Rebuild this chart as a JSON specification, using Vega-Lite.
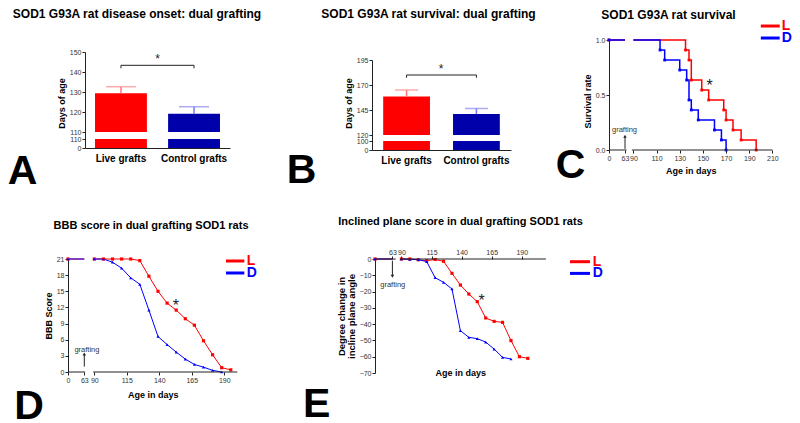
{
  "$schema": "https://vega.github.io/schema/vega-lite/v6.json",
  "padding": {"left": 7, "top": 8, "right": 2, "bottom": 2},
  "autosize": {"type": "pad"},
  "config": {
    "view": {"stroke": null},
    "font": "Liberation Sans",
    "axis": {"labelFont": "Liberation Sans", "labelFontSize": 7, "labelColor": "#333", "titleFont": "Liberation Sans", "titleFontSize": 9, "titleFontWeight": "bold", "titleColor": "#000", "domainColor": "#222", "tickColor": "#222", "tickSize": 3, "grid": false, "labelOverlap": false, "labelFlush": false, "labelPadding": 1, "titlePadding": 3, "labelBound": false},
    "title": {"font": "Liberation Sans", "fontSize": 12, "fontWeight": "bold", "color": "#000", "anchor": "middle", "baseline": "alphabetic", "frame": "group"}
  },
  "datasets": {
    "onset": [
      {"group": "Live grafts", "mean": 129.35, "upper": 132.65},
      {"group": "Control grafts", "mean": 119.15, "upper": 122.65}
    ],
    "survivalBars": [
      {"group": "Live grafts", "mean": 158.5, "upper": 165},
      {"group": "Control grafts", "mean": 141, "upper": 146.5}
    ],
    "survival": [
      {"group": "L", "seg": "a", "age": 0, "rate": 1},
      {"group": "L", "seg": "a", "age": 63, "rate": 1},
      {"group": "L", "seg": "b", "age": 90, "rate": 1},
      {"group": "L", "seg": "b", "age": 135, "rate": 0.909},
      {"group": "L", "seg": "b", "age": 138, "rate": 0.818},
      {"group": "L", "seg": "b", "age": 140, "rate": 0.636},
      {"group": "L", "seg": "b", "age": 149, "rate": 0.545},
      {"group": "L", "seg": "b", "age": 155, "rate": 0.455},
      {"group": "L", "seg": "b", "age": 168, "rate": 0.364},
      {"group": "L", "seg": "b", "age": 170, "rate": 0.273},
      {"group": "L", "seg": "b", "age": 176, "rate": 0.182},
      {"group": "L", "seg": "b", "age": 183, "rate": 0.091},
      {"group": "L", "seg": "b", "age": 196, "rate": 0},
      {"group": "D", "seg": "a", "age": 0, "rate": 1},
      {"group": "D", "seg": "a", "age": 63, "rate": 1},
      {"group": "D", "seg": "b", "age": 90, "rate": 1},
      {"group": "D", "seg": "b", "age": 113, "rate": 0.909},
      {"group": "D", "seg": "b", "age": 117, "rate": 0.818},
      {"group": "D", "seg": "b", "age": 130, "rate": 0.727},
      {"group": "D", "seg": "b", "age": 136, "rate": 0.636},
      {"group": "D", "seg": "b", "age": 138, "rate": 0.455},
      {"group": "D", "seg": "b", "age": 140, "rate": 0.364},
      {"group": "D", "seg": "b", "age": 146, "rate": 0.273},
      {"group": "D", "seg": "b", "age": 160, "rate": 0.182},
      {"group": "D", "seg": "b", "age": 166, "rate": 0.091},
      {"group": "D", "seg": "b", "age": 170, "rate": 0}
    ],
    "bbb": [
      {"group": "L", "seg": "a", "age": 0, "score": 21},
      {"group": "L", "seg": "a", "age": 63, "score": 21},
      {"group": "L", "seg": "b", "age": 90, "score": 21},
      {"group": "L", "seg": "b", "age": 97, "score": 21},
      {"group": "L", "seg": "b", "age": 104, "score": 21},
      {"group": "L", "seg": "b", "age": 111, "score": 21},
      {"group": "L", "seg": "b", "age": 118, "score": 21},
      {"group": "L", "seg": "b", "age": 125, "score": 20.7},
      {"group": "L", "seg": "b", "age": 132, "score": 17.8},
      {"group": "L", "seg": "b", "age": 139, "score": 15.0},
      {"group": "L", "seg": "b", "age": 146, "score": 12.8},
      {"group": "L", "seg": "b", "age": 153, "score": 11.5},
      {"group": "L", "seg": "b", "age": 160, "score": 9.9},
      {"group": "L", "seg": "b", "age": 167, "score": 8.7},
      {"group": "L", "seg": "b", "age": 174, "score": 5.8},
      {"group": "L", "seg": "b", "age": 181, "score": 3.2},
      {"group": "L", "seg": "b", "age": 188, "score": 0.8},
      {"group": "L", "seg": "b", "age": 195, "score": 0.4},
      {"group": "D", "seg": "a", "age": 0, "score": 21},
      {"group": "D", "seg": "a", "age": 63, "score": 21},
      {"group": "D", "seg": "b", "age": 90, "score": 21},
      {"group": "D", "seg": "b", "age": 97, "score": 21},
      {"group": "D", "seg": "b", "age": 104, "score": 20.4},
      {"group": "D", "seg": "b", "age": 111, "score": 19.3},
      {"group": "D", "seg": "b", "age": 118, "score": 17.5},
      {"group": "D", "seg": "b", "age": 125, "score": 16.3},
      {"group": "D", "seg": "b", "age": 132, "score": 11.5},
      {"group": "D", "seg": "b", "age": 139, "score": 6.6},
      {"group": "D", "seg": "b", "age": 146, "score": 5.1},
      {"group": "D", "seg": "b", "age": 153, "score": 3.7},
      {"group": "D", "seg": "b", "age": 160, "score": 2.4},
      {"group": "D", "seg": "b", "age": 167, "score": 1.4},
      {"group": "D", "seg": "b", "age": 174, "score": 0.9},
      {"group": "D", "seg": "b", "age": 181, "score": 0.3},
      {"group": "D", "seg": "b", "age": 188, "score": 0}
    ],
    "incline": [
      {"group": "L", "seg": "a", "age": 0, "angle": 0},
      {"group": "L", "seg": "a", "age": 63, "angle": 0},
      {"group": "L", "seg": "b", "age": 90, "angle": 0},
      {"group": "L", "seg": "b", "age": 97, "angle": 0},
      {"group": "L", "seg": "b", "age": 104, "angle": -0.5},
      {"group": "L", "seg": "b", "age": 111, "angle": -1.0},
      {"group": "L", "seg": "b", "age": 118, "angle": -0.3},
      {"group": "L", "seg": "b", "age": 125, "angle": -1.4},
      {"group": "L", "seg": "b", "age": 132, "angle": -8.8},
      {"group": "L", "seg": "b", "age": 139, "angle": -16},
      {"group": "L", "seg": "b", "age": 146, "angle": -21.5},
      {"group": "L", "seg": "b", "age": 153, "angle": -26.2},
      {"group": "L", "seg": "b", "age": 160, "angle": -36.2},
      {"group": "L", "seg": "b", "age": 167, "angle": -38.3},
      {"group": "L", "seg": "b", "age": 174, "angle": -38.9},
      {"group": "L", "seg": "b", "age": 181, "angle": -50.1},
      {"group": "L", "seg": "b", "age": 188, "angle": -60},
      {"group": "L", "seg": "b", "age": 195, "angle": -61},
      {"group": "D", "seg": "a", "age": 0, "angle": 0},
      {"group": "D", "seg": "a", "age": 63, "angle": 0},
      {"group": "D", "seg": "b", "age": 90, "angle": 0},
      {"group": "D", "seg": "b", "age": 97, "angle": -0.2},
      {"group": "D", "seg": "b", "age": 104, "angle": -0.4},
      {"group": "D", "seg": "b", "age": 111, "angle": -1.6},
      {"group": "D", "seg": "b", "age": 118, "angle": -11.5},
      {"group": "D", "seg": "b", "age": 125, "angle": -14.3},
      {"group": "D", "seg": "b", "age": 132, "angle": -18.4},
      {"group": "D", "seg": "b", "age": 139, "angle": -44},
      {"group": "D", "seg": "b", "age": 146, "angle": -48.1},
      {"group": "D", "seg": "b", "age": 153, "angle": -48.9},
      {"group": "D", "seg": "b", "age": 160, "angle": -51},
      {"group": "D", "seg": "b", "age": 167, "angle": -55.3},
      {"group": "D", "seg": "b", "age": 174, "angle": -60.4},
      {"group": "D", "seg": "b", "age": 181, "angle": -61.4}
    ],
    "one": [{"k": 1}]
  },
  "bounds": "flush",
  "spacing": 219,
  "resolve": {"scale": {"color": "independent"}},
  "vconcat": [
    {
      "bounds": "flush",
      "spacing": 142,
      "resolve": {"scale": {"color": "independent"}},
      "hconcat": [
        {
          "width": 145, "height": 108,
          "title": {"text": "SOD1 G93A rat disease onset: dual grafting", "dx": -20.5, "offset": 19},
          "data": {"name": "onset"},
          "layer": [
            {"mark": {"type": "bar"},
             "encoding": {
               "x": {"field": "group", "type": "nominal", "sort": null, "scale": {"domain": ["Live grafts", "Control grafts"], "paddingInner": 0.29, "paddingOuter": 0.137}, "axis": {"title": null, "labelAngle": 0, "labelFontSize": 10, "labelFontWeight": "bold", "labelColor": "#000", "ticks": false, "labelPadding": 5, "labelOverlap": false}},
               "y": {"datum": 0, "type": "quantitative", "scale": {"domain": [0, 110, 110.01, 150], "range": [108, 99, 92, 12], "zero": false, "nice": false}, "axis": {"values": [0, 110, 110.01, 120, 130, 140, 150], "tickCount": 20, "labelExpr": "datum.value > 110 && datum.value < 111 ? '110' : format(datum.value, 'd')", "title": "Days of age", "titleY": 63, "labelOverlap": false, "labelFlush": false}},
               "y2": {"datum": 110},
               "color": {"field": "group", "type": "nominal", "scale": {"domain": ["Live grafts", "Control grafts"], "range": ["#ff0000", "#0000aa"]}, "legend": null}
             }},
            {"mark": {"type": "bar"},
             "encoding": {
               "x": {"field": "group", "type": "nominal", "sort": null},
               "y": {"field": "mean", "type": "quantitative"},
               "y2": {"datum": 110.01},
               "color": {"field": "group", "type": "nominal"}
             }},
            {"mark": {"type": "rule", "strokeWidth": 1.5},
             "encoding": {
               "x": {"field": "group", "type": "nominal", "sort": null},
               "y": {"field": "mean", "type": "quantitative"},
               "y2": {"field": "upper"},
               "color": {"condition": {"test": "datum.group === 'Live grafts'", "value": "#ff7777"}, "value": "#7777ee"}
             }},
            {"mark": {"type": "tick", "thickness": 1.5, "size": 30},
             "encoding": {
               "x": {"field": "group", "type": "nominal", "sort": null},
               "y": {"field": "upper", "type": "quantitative"},
               "color": {"condition": {"test": "datum.group === 'Live grafts'", "value": "#ff8888"}, "value": "#8888ee"}
             }},
            {"mark": {"type": "line", "color": "#222", "strokeWidth": 1},
             "encoding": {"x": {"field": "group", "type": "nominal", "sort": null}, "y": {"datum": 143.35, "type": "quantitative"}}},
            {"mark": {"type": "rule", "color": "#222"},
             "encoding": {"x": {"field": "group", "type": "nominal", "sort": null}, "y": {"datum": 143.35, "type": "quantitative"}, "y2": {"datum": 141.85}}},
            {"transform": [{"filter": "datum.group === 'Live grafts'"}],
             "mark": {"type": "text", "text": "*", "fontSize": 12, "baseline": "alphabetic", "color": "#222", "dx": 36.5},
             "encoding": {"x": {"field": "group", "type": "nominal", "sort": null}, "y": {"datum": 144.5, "type": "quantitative"}}},
            {"transform": [{"filter": "datum.group === 'Live grafts'"}],
             "mark": {"type": "text", "text": "A", "fontSize": 41, "fontWeight": "bold", "baseline": "alphabetic", "color": "#000", "dx": -98.5},
             "encoding": {"x": {"field": "group", "type": "nominal", "sort": null}, "y": {"datum": -440, "type": "quantitative"}}}
          ]
        },
        {
          "bounds": "flush",
          "spacing": 98,
          "resolve": {"scale": {"color": "independent"}},
          "hconcat": [
            {
              "width": 139, "height": 110,
              "title": {"text": "SOD1 G93A rat survival: dual grafting", "dx": -13, "offset": 19},
              "data": {"name": "survivalBars"},
              "layer": [
                {"mark": {"type": "bar"},
                 "encoding": {
                   "x": {"field": "group", "type": "nominal", "sort": null, "scale": {"domain": ["Live grafts", "Control grafts"], "paddingInner": 0.33, "paddingOuter": 0.16}, "axis": {"title": null, "labelAngle": 0, "labelFontSize": 10, "labelFontWeight": "bold", "labelColor": "#000", "ticks": false, "labelPadding": 5, "labelOverlap": false}},
                   "y": {"datum": 0, "type": "quantitative", "scale": {"domain": [0, 100, 120, 195], "range": [110, 101, 95, 20], "zero": false, "nice": false}, "axis": {"values": [0, 100, 120, 145, 170, 195], "tickCount": 20, "format": "d", "title": "Days of age", "titleY": 63, "labelOverlap": false, "labelFlush": false}},
                   "y2": {"datum": 100},
                   "color": {"field": "group", "type": "nominal", "scale": {"domain": ["Live grafts", "Control grafts"], "range": ["#ff0000", "#0000aa"]}, "legend": null}
                 }},
                {"mark": {"type": "bar"},
                 "encoding": {
                   "x": {"field": "group", "type": "nominal", "sort": null},
                   "y": {"field": "mean", "type": "quantitative"},
                   "y2": {"datum": 120},
                   "color": {"field": "group", "type": "nominal"}
                 }},
                {"mark": {"type": "rule", "strokeWidth": 1.5},
                 "encoding": {
                   "x": {"field": "group", "type": "nominal", "sort": null},
                   "y": {"field": "mean", "type": "quantitative"},
                   "y2": {"field": "upper"},
                   "color": {"condition": {"test": "datum.group === 'Live grafts'", "value": "#ff7777"}, "value": "#7777ee"}
                 }},
                {"mark": {"type": "tick", "thickness": 1.5, "size": 23},
                 "encoding": {
                   "x": {"field": "group", "type": "nominal", "sort": null},
                   "y": {"field": "upper", "type": "quantitative"},
                   "color": {"condition": {"test": "datum.group === 'Live grafts'", "value": "#ff8888"}, "value": "#8888ee"}
                 }},
                {"mark": {"type": "line", "color": "#222", "strokeWidth": 1},
                 "encoding": {"x": {"field": "group", "type": "nominal", "sort": null}, "y": {"datum": 180, "type": "quantitative"}}},
                {"mark": {"type": "rule", "color": "#222"},
                 "encoding": {"x": {"field": "group", "type": "nominal", "sort": null}, "y": {"datum": 180, "type": "quantitative"}, "y2": {"datum": 177.3}}},
                {"transform": [{"filter": "datum.group === 'Live grafts'"}],
                 "mark": {"type": "text", "text": "*", "fontSize": 12, "baseline": "alphabetic", "color": "#222", "dx": 34.5},
                 "encoding": {"x": {"field": "group", "type": "nominal", "sort": null}, "y": {"datum": 182, "type": "quantitative"}}},
                {"transform": [{"filter": "datum.group === 'Live grafts'"}],
                 "mark": {"type": "text", "text": "B", "fontSize": 41, "fontWeight": "bold", "baseline": "alphabetic", "color": "#000", "dx": -105},
                 "encoding": {"x": {"field": "group", "type": "nominal", "sort": null}, "y": {"datum": -363, "type": "quantitative"}}}
              ]
            },
            {
              "width": 163, "height": 110,
              "title": {"text": "SOD1 G93A rat survival", "dx": -22, "offset": 18, "dy": 20.5},
              "layer": [
                {
                  "data": {"name": "survival"},
                  "mark": {"type": "line", "interpolate": "step-after", "strokeWidth": 1.5},
                  "encoding": {
                    "x": {"field": "age", "type": "quantitative", "scale": {"domain": [0, 63, 90, 210], "range": [0, 16, 24.4, 163.4], "nice": false, "zero": false}, "axis": {"values": [0, 63, 90, 110, 130, 150, 170, 190, 210], "tickCount": 20, "domain": false, "title": "Age in days", "titlePadding": 5, "labelOverlap": false, "labelFlush": false}},
                    "y": {"field": "rate", "type": "quantitative", "scale": {"domain": [0, 1], "nice": false, "zero": false}, "axis": {"values": [0, 0.5, 1], "tickCount": 20, "format": ".1f", "title": "Survival rate", "titleY": 61, "labelOverlap": false, "labelFlush": false}},
                    "color": {"field": "group", "type": "nominal", "sort": null, "scale": {"domain": ["L", "D"], "range": ["#ff0000", "#0000ff"]}, "legend": null},
                    "detail": {"field": "seg", "type": "nominal"}
                  }
                },
                {
                  "data": {"name": "survival"},
                  "transform": [{"filter": "datum.age != 63 && datum.age != 90"}],
                  "mark": {"type": "point", "shape": "square", "filled": true, "size": 8, "opacity": 1},
                  "encoding": {
                    "x": {"field": "age", "type": "quantitative"},
                    "y": {"field": "rate", "type": "quantitative"},
                    "color": {"condition": {"test": "datum.group === 'L'", "value": "#ff0000"}, "value": "#0000ff"}
                  }
                },
                {"data": {"name": "one"}, "mark": {"type": "rule", "color": "#222"}, "encoding": {"x": {"datum": 0, "type": "quantitative"}, "x2": {"datum": 68}, "y": {"datum": 0, "type": "quantitative"}}},
                {"data": {"name": "one"}, "mark": {"type": "rule", "color": "#222"}, "encoding": {"x": {"datum": 85, "type": "quantitative"}, "x2": {"datum": 210}, "y": {"datum": 0, "type": "quantitative"}}},
                {"data": {"name": "one"}, "mark": {"type": "rule", "color": "#222"}, "encoding": {"x": {"datum": 63, "type": "quantitative"}, "y": {"datum": 0.01, "type": "quantitative"}, "y2": {"datum": 0.12}}},
                {"data": {"name": "one"}, "mark": {"type": "point", "shape": "triangle-up", "filled": true, "size": 12, "color": "#222", "opacity": 1}, "encoding": {"x": {"datum": 63, "type": "quantitative"}, "y": {"datum": 0.125, "type": "quantitative"}}},
                {"data": {"name": "one"}, "mark": {"type": "text", "text": "grafting", "fontSize": 7.5, "baseline": "middle", "color": "#333"}, "encoding": {"x": {"datum": 61, "type": "quantitative"}, "y": {"datum": 0.182, "type": "quantitative"}}},
                {"data": {"name": "one"}, "mark": {"type": "text", "text": "*", "fontSize": 16, "baseline": "alphabetic", "color": "#222"}, "encoding": {"x": {"datum": 155.9, "type": "quantitative"}, "y": {"datum": 0.54, "type": "quantitative"}}},
                {"data": {"name": "one"}, "mark": {"type": "text", "text": "C", "fontSize": 41, "fontWeight": "bold", "baseline": "alphabetic", "color": "#000"}, "encoding": {"x": {"datum": -151.6, "type": "quantitative"}, "y": {"datum": -0.252, "type": "quantitative"}}},
                {"data": {"name": "one"}, "mark": {"type": "rule", "color": "#ff0000", "strokeWidth": 3}, "encoding": {"x": {"datum": 200, "type": "quantitative"}, "x2": {"datum": 216.3}, "y": {"datum": 1.127, "type": "quantitative"}}},
                {"data": {"name": "one"}, "mark": {"type": "rule", "color": "#0000ff", "strokeWidth": 3}, "encoding": {"x": {"datum": 200, "type": "quantitative"}, "x2": {"datum": 216.3}, "y": {"datum": 1.018, "type": "quantitative"}}},
                {"data": {"name": "one"}, "mark": {"type": "text", "text": "L", "fontSize": 14, "fontWeight": "bold", "align": "left", "baseline": "middle", "color": "#ff0000"}, "encoding": {"x": {"datum": 218, "type": "quantitative"}, "y": {"datum": 1.127, "type": "quantitative"}}},
                {"data": {"name": "one"}, "mark": {"type": "text", "text": "D", "fontSize": 14, "fontWeight": "bold", "align": "left", "baseline": "middle", "color": "#0000ff"}, "encoding": {"x": {"datum": 218, "type": "quantitative"}, "y": {"datum": 1.018, "type": "quantitative"}}}
              ]
            }
          ]
        }
      ]
    },
    {
      "bounds": "flush",
      "spacing": 138,
      "resolve": {"scale": {"color": "independent"}},
      "hconcat": [
        {
          "width": 152, "height": 113,
          "title": {"text": "BBB score in dual grafting SOD1 rats", "dx": -10, "offset": 22.5, "fontSize": 11},
          "layer": [
            {
              "data": {"name": "bbb"},
              "mark": {"type": "line", "strokeWidth": 1},
              "encoding": {
                "x": {"field": "age", "type": "quantitative", "scale": {"domain": [0, 63, 90, 200], "range": [-17, -0.7, 9.3, 152.3], "nice": false, "zero": false}, "axis": {"values": [0, 63, 90, 115, 140, 165, 190], "tickCount": 20, "domain": false, "title": "Age in days", "titlePadding": 7, "labelOverlap": false, "labelFlush": false}},
                "y": {"field": "score", "type": "quantitative", "scale": {"domain": [0, 21], "nice": false, "zero": false}, "axis": {"values": [0, 3, 6, 9, 12, 15, 18, 21], "tickCount": 20, "title": "BBB Score", "offset": 17, "labelOverlap": false, "labelFlush": false}},
                "color": {"field": "group", "type": "nominal", "sort": null, "scale": {"domain": ["L", "D"], "range": ["#ff0000", "#0000ff"]}, "legend": null},
                "detail": {"field": "seg", "type": "nominal"}
              }
            },
            {
              "data": {"name": "bbb"},
              "transform": [{"filter": "datum.age != 63 && datum.group === 'L'"}],
              "mark": {"type": "point", "shape": "square", "filled": true, "size": 10, "opacity": 1, "color": "#ff0000"},
              "encoding": {"x": {"field": "age", "type": "quantitative"}, "y": {"field": "score", "type": "quantitative"}}
            },
            {
              "data": {"name": "bbb"},
              "transform": [{"filter": "datum.age != 63 && datum.group === 'D'"}],
              "mark": {"type": "point", "shape": "triangle-up", "filled": true, "size": 10, "opacity": 1, "color": "#0000ff"},
              "encoding": {"x": {"field": "age", "type": "quantitative"}, "y": {"field": "score", "type": "quantitative"}}
            },
            {"data": {"name": "one"}, "mark": {"type": "rule", "color": "#222"}, "encoding": {"x": {"datum": 0, "type": "quantitative"}, "x2": {"datum": 65}, "y": {"datum": 0, "type": "quantitative"}}},
            {"data": {"name": "one"}, "mark": {"type": "rule", "color": "#222"}, "encoding": {"x": {"datum": 87, "type": "quantitative"}, "x2": {"datum": 200}, "y": {"datum": 0, "type": "quantitative"}}},
            {"data": {"name": "one"}, "mark": {"type": "rule", "color": "#222"}, "encoding": {"x": {"datum": 63, "type": "quantitative"}, "y": {"datum": 1.0, "type": "quantitative"}, "y2": {"datum": 3.2}}},
            {"data": {"name": "one"}, "mark": {"type": "point", "shape": "triangle-up", "filled": true, "size": 12, "color": "#222", "opacity": 1}, "encoding": {"x": {"datum": 63, "type": "quantitative"}, "y": {"datum": 3.35, "type": "quantitative"}}},
            {"data": {"name": "one"}, "mark": {"type": "text", "text": "grafting", "fontSize": 7.5, "baseline": "middle", "color": "#333"}, "encoding": {"x": {"datum": 70, "type": "quantitative"}, "y": {"datum": 4.1, "type": "quantitative"}}},
            {"data": {"name": "one"}, "mark": {"type": "text", "text": "*", "fontSize": 16, "baseline": "alphabetic", "color": "#222"}, "encoding": {"x": {"datum": 152.8, "type": "quantitative"}, "y": {"datum": 11.3, "type": "quantitative"}}},
            {"data": {"name": "one"}, "mark": {"type": "text", "text": "D", "fontSize": 41, "fontWeight": "bold", "baseline": "alphabetic", "color": "#000"}, "encoding": {"x": {"datum": -150.7, "type": "quantitative"}, "y": {"datum": -8.73, "type": "quantitative"}}},
            {"data": {"name": "one"}, "mark": {"type": "rule", "color": "#ff0000", "strokeWidth": 3}, "encoding": {"x": {"datum": 191.3, "type": "quantitative"}, "x2": {"datum": 205.4}, "y": {"datum": 20.63, "type": "quantitative"}}},
            {"data": {"name": "one"}, "mark": {"type": "rule", "color": "#0000ff", "strokeWidth": 3}, "encoding": {"x": {"datum": 191.3, "type": "quantitative"}, "x2": {"datum": 205.4}, "y": {"datum": 18.4, "type": "quantitative"}}},
            {"data": {"name": "one"}, "mark": {"type": "text", "text": "L", "fontSize": 14, "fontWeight": "bold", "align": "left", "baseline": "middle", "color": "#ff0000"}, "encoding": {"x": {"datum": 207.3, "type": "quantitative"}, "y": {"datum": 20.63, "type": "quantitative"}}},
            {"data": {"name": "one"}, "mark": {"type": "text", "text": "D", "fontSize": 14, "fontWeight": "bold", "align": "left", "baseline": "middle", "color": "#0000ff"}, "encoding": {"x": {"datum": 207.3, "type": "quantitative"}, "y": {"datum": 18.4, "type": "quantitative"}}}
          ]
        },
        {
          "width": 171, "height": 114,
          "title": {"text": "Inclined plane score in dual grafting SOD1 rats", "dx": 0, "offset": 21, "fontSize": 11},
          "layer": [
            {
              "data": {"name": "incline"},
              "mark": {"type": "line", "strokeWidth": 1},
              "encoding": {
                "x": {"field": "age", "type": "quantitative", "scale": {"domain": [0, 63, 90, 210], "range": [0, 17.4, 26.4, 170.9], "nice": false, "zero": false}, "axis": {"orient": "top", "values": [63, 90, 115, 140, 165, 190], "tickCount": 20, "domain": false, "title": null, "labelOverlap": false, "labelFlush": false}},
                "y": {"field": "angle", "type": "quantitative", "scale": {"domain": [-70, 0], "nice": false, "zero": false}, "axis": {"values": [0, -10, -20, -30, -40, -50, -60, -70], "tickCount": 20, "title": ["Degree change in", "incline plane angle"], "titleFontSize": 9.5, "titleLineHeight": 10, "labelOverlap": false, "labelFlush": false}},
                "color": {"field": "group", "type": "nominal", "sort": null, "scale": {"domain": ["L", "D"], "range": ["#ff0000", "#0000ff"]}, "legend": null},
                "detail": {"field": "seg", "type": "nominal"}
              }
            },
            {
              "data": {"name": "incline"},
              "transform": [{"filter": "datum.age != 63 && datum.group === 'L'"}],
              "mark": {"type": "point", "shape": "square", "filled": true, "size": 10, "opacity": 1, "color": "#ff0000"},
              "encoding": {"x": {"field": "age", "type": "quantitative"}, "y": {"field": "angle", "type": "quantitative"}}
            },
            {
              "data": {"name": "incline"},
              "transform": [{"filter": "datum.age != 63 && datum.group === 'D'"}],
              "mark": {"type": "point", "shape": "triangle-up", "filled": true, "size": 10, "opacity": 1, "color": "#0000ff"},
              "encoding": {"x": {"field": "age", "type": "quantitative"}, "y": {"field": "angle", "type": "quantitative"}}
            },
            {"data": {"name": "one"}, "mark": {"type": "rule", "color": "#222"}, "encoding": {"x": {"datum": 0, "type": "quantitative"}, "x2": {"datum": 73}, "y": {"datum": 0, "type": "quantitative"}}},
            {"data": {"name": "one"}, "mark": {"type": "rule", "color": "#222"}, "encoding": {"x": {"datum": 86, "type": "quantitative"}, "x2": {"datum": 210}, "y": {"datum": 0, "type": "quantitative"}}},
            {"data": {"name": "one"}, "mark": {"type": "rule", "color": "#222"}, "encoding": {"x": {"datum": 63, "type": "quantitative"}, "y": {"datum": -1, "type": "quantitative"}, "y2": {"datum": -10}}},
            {"data": {"name": "one"}, "mark": {"type": "point", "shape": "triangle-down", "filled": true, "size": 12, "color": "#222", "opacity": 1}, "encoding": {"x": {"datum": 63, "type": "quantitative"}, "y": {"datum": -10.6, "type": "quantitative"}}},
            {"data": {"name": "one"}, "mark": {"type": "text", "text": "grafting", "fontSize": 7.5, "baseline": "middle", "color": "#333"}, "encoding": {"x": {"datum": 64, "type": "quantitative"}, "y": {"datum": -16, "type": "quantitative"}}},
            {"data": {"name": "one"}, "mark": {"type": "text", "text": "*", "fontSize": 16, "baseline": "alphabetic", "color": "#222"}, "encoding": {"x": {"datum": 156.7, "type": "quantitative"}, "y": {"datum": -28.7, "type": "quantitative"}}},
            {"data": {"name": "one"}, "mark": {"type": "text", "text": "Age in days", "fontSize": 9, "fontWeight": "bold", "baseline": "alphabetic", "color": "#000"}, "encoding": {"x": {"datum": 139.3, "type": "quantitative"}, "y": {"datum": -71.6, "type": "quantitative"}}},
            {"data": {"name": "one"}, "mark": {"type": "text", "text": "E", "fontSize": 41, "fontWeight": "bold", "baseline": "alphabetic", "color": "#000"}, "encoding": {"x": {"datum": -211, "type": "quantitative"}, "y": {"datum": -97.2, "type": "quantitative"}}},
            {"data": {"name": "one"}, "mark": {"type": "rule", "color": "#ff0000", "strokeWidth": 3}, "encoding": {"x": {"datum": 230, "type": "quantitative"}, "x2": {"datum": 246.6}, "y": {"datum": -1.66, "type": "quantitative"}}},
            {"data": {"name": "one"}, "mark": {"type": "rule", "color": "#0000ff", "strokeWidth": 3}, "encoding": {"x": {"datum": 230, "type": "quantitative"}, "x2": {"datum": 246.6}, "y": {"datum": -8.84, "type": "quantitative"}}},
            {"data": {"name": "one"}, "mark": {"type": "text", "text": "L", "fontSize": 14, "fontWeight": "bold", "align": "left", "baseline": "middle", "color": "#ff0000"}, "encoding": {"x": {"datum": 248.9, "type": "quantitative"}, "y": {"datum": -1.66, "type": "quantitative"}}},
            {"data": {"name": "one"}, "mark": {"type": "text", "text": "D", "fontSize": 14, "fontWeight": "bold", "align": "left", "baseline": "middle", "color": "#0000ff"}, "encoding": {"x": {"datum": 248.9, "type": "quantitative"}, "y": {"datum": -8.84, "type": "quantitative"}}}
          ]
        }
      ]
    }
  ]
}
